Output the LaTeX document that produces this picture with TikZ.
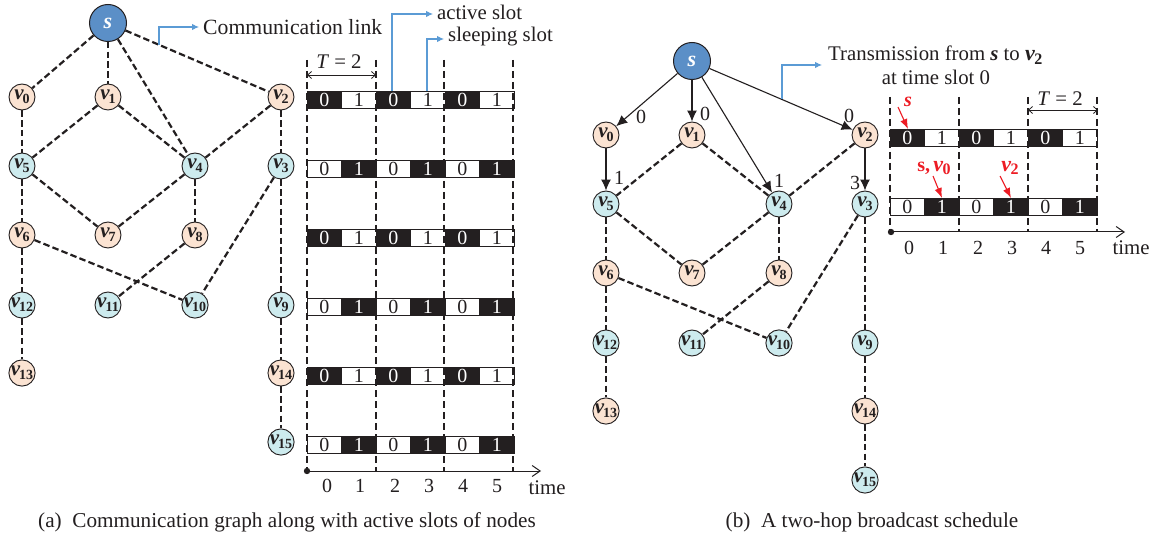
\documentclass[tikz,border=0pt]{standalone}
\usepackage{fontspec}
\setmainfont{Liberation Serif}
\usetikzlibrary{arrows.meta,calc}
\definecolor{ink}{HTML}{231F20}
\definecolor{srcblue}{HTML}{5B8FC7}
\definecolor{peach}{HTML}{FBE3D2}
\definecolor{aqua}{HTML}{CDEBEE}
\definecolor{linkblue}{HTML}{5B9BD5}
\definecolor{alert}{HTML}{ED1C24}
\newcommand{\vn}[1]{{\fontsize{21}{21}\selectfont\bfseries\itshape v\kern-1pt\raisebox{-4pt}{\fontsize{14}{14}\selectfont\upshape #1}}}
\newcommand{\vr}[1]{{\fontsize{22}{22}\selectfont\bfseries\itshape v\kern-0.5pt\raisebox{-3.5pt}{\fontsize{16}{16}\selectfont\upshape #1}}}
\tikzset{
 txt/.style={font=\fontsize{20.8}{22}\selectfont,text=ink,inner sep=0},
 captext/.style={font=\fontsize{21.2}{22}\selectfont,text=ink,inner sep=0},
 num/.style={font=\fontsize{20}{22}\selectfont,text=ink,inner sep=0},
 src/.style={circle,draw=ink,line width=1pt,fill=srcblue,minimum size=37pt,inner sep=0,text=white,font=\fontsize{22}{22}\selectfont\bfseries\itshape},
 pn/.style={circle,draw=ink,line width=.9pt,fill=peach,minimum size=26pt,inner sep=0,text=ink},
 an/.style={circle,draw=ink,line width=.9pt,fill=aqua,minimum size=26pt,inner sep=0,text=ink},
 dl/.style={draw=ink,line width=2.2pt,dash pattern=on 6.5pt off 3.2pt},
 sl/.style={draw=ink,line width=1.1pt,-{Latex[length=11pt,width=10pt]}},
 sd/.style={draw=ink,line width=1.8pt,dash pattern=on 7pt off 4pt},
 bl/.style={draw=linkblue,line width=1.1pt,-{Latex[length=7pt,width=6.5pt]}},
 rd/.style={draw=alert,line width=1.1pt,-{Latex[length=10pt,width=7.5pt]}},
 dk/.style={fill=ink,draw=ink,line width=.8pt,minimum width=34.5pt,minimum height=17pt,inner sep=0,text=white,font=\fontsize{20}{20}\selectfont},
 lt/.style={fill=white,draw=ink,line width=.8pt,minimum width=34.5pt,minimum height=17pt,inner sep=0,text=ink,font=\fontsize{20}{20}\selectfont},
 dimline/.style={draw=ink,line width=.8pt,{Straight Barb[length=4pt,width=7pt]}-{Straight Barb[length=4pt,width=7pt]}},
 tax/.style={draw=ink,line width=1pt,-{Straight Barb[length=8pt,width=11pt]}},
}
\newcommand{\nodesAt}[3]{
 \begin{scope}[shift={(#2,#3)}]
 \node[src] (#1s) at (108,23) {s};
 \node[pn] (#1v0) at (22,97) {\vn0};
 \node[pn] (#1v1) at (108,97) {\vn1};
 \node[pn] (#1v2) at (281,97) {\vn2};
 \node[an] (#1v3) at (281,166) {\vn3};
 \node[an] (#1v4) at (195,166) {\vn4};
 \node[an] (#1v5) at (22,166) {\vn5};
 \node[pn] (#1v6) at (22,235) {\vn6};
 \node[pn] (#1v7) at (108,235) {\vn7};
 \node[pn] (#1v8) at (195,235) {\vn8};
 \node[an] (#1v12) at (22,305) {\vn{12}};
 \node[an] (#1v11) at (108,305) {\vn{11}};
 \node[an] (#1v10) at (195,305) {\vn{10}};
 \node[an] (#1v9) at (281,305) {\vn9};
 \node[pn] (#1v13) at (22,373) {\vn{13}};
 \node[pn] (#1v14) at (281,373) {\vn{14}};
 \node[an] (#1v15) at (281,442) {\vn{15}};
 \end{scope}
 \foreach \p/\q in {v1/v5,v1/v4,v2/v4,v5/v6,v5/v7,v4/v7,v4/v8,v8/v11,v6/v12,v12/v13,v6/v10,v3/v10,v3/v9,v9/v14,v14/v15}
  \draw[dl] (#1\p) -- (#1\q);
}
\newcommand{\slotrow}[4]{
 \foreach \i in {0,...,5}{
  \pgfmathtruncatemacro{\dark}{mod(\i+#4,2)==0 ? 1 : 0}
  \pgfmathtruncatemacro{\lab}{mod(\i,2)}
  \pgfmathsetmacro{\xx}{#2+17.25+34.5*\i}
  \ifnum\dark=1
   \node[dk] (#1c\i) at (\xx,#3+8.5) {\lab};
  \else
   \node[lt] (#1c\i) at (\xx,#3+8.5) {\lab};
  \fi
 }
}
\begin{document}
\begin{tikzpicture}[x=1pt,y=-1pt]
\useasboundingbox (0,0) rectangle (1157,540);
\fill[white] (0,0) rectangle (1157,540);

% ---- (a)
\nodesAt{a}{0}{0}
\foreach \q in {v0,v1,v4,v2} \draw[dl] (as) -- (a\q);
\draw[dl] (av0) -- (av5);
\draw[dl] (av2) -- (av3);

\foreach \r/\yy/\dd in {1/91/0,2/160/1,3/229/0,4/298/1,5/367/0,6/436/1}
  \slotrow{ar\r}{307}{\yy}{\dd};
\foreach \xx/\nn in {307/0,376/1,444/2,513/3}{
  \coordinate (at\nn) at (\xx,60);
  \coordinate (ab\nn) at (\xx,471);
  \draw[sd] (at\nn) -- (ab\nn);
}
\coordinate (aO) at (307,471);
\coordinate (aE) at (541,471);
\draw[tax] (aO) -- (aE);
\fill[ink] (aO) circle (3.2pt);
\foreach \xx/\nn in {327/0,360/1,395/2,429/3,463/4,497/5}
  \node[num] (al\nn) at (\xx,486) {\nn};
\node[txt] (atime) at (547,488) {time};
\coordinate (ad1) at (307,75); \coordinate (ad2) at (376,75);
\draw[dimline] (ad1) -- (ad2);
\node[txt] (aT) at (339,62) {\textit{T} = 2};

\coordinate (ca) at (159,45); \coordinate (cb) at (199,27);
\draw[bl] (ca) |- (cb);
\node[txt,anchor=west,font=\fontsize{21.7}{22}\selectfont] (acl) at (203,27) {Communication link};
\coordinate (cc) at (392,91); \coordinate (cd) at (433,14);
\draw[bl] (cc) |- (cd);
\node[txt,anchor=west] (aas) at (437,12) {active slot};
\coordinate (ce) at (427,91); \coordinate (cf) at (444,39);
\draw[bl] (ce) |- (cf);
\node[txt,anchor=west] (ass) at (448,37) {sleeping slot};
\node[captext] (capa) at (287,522) {(a)\ \ Communication graph along with active slots of nodes};

% ---- (b)
\nodesAt{b}{584}{38}
\foreach \q in {v0,v1,v4,v2} \draw[sl] (bs) -- (b\q);
\draw[sl] (bv0) -- (bv5);
\draw[sl] (bv2) -- (bv3);

\slotrow{br1}{890}{129}{0}
\slotrow{br2}{890}{198}{1}
\foreach \xx/\nn in {890/0,959/1,1028/2,1097/3}{
  \coordinate (bt\nn) at (\xx,97);
  \coordinate (bb\nn) at (\xx,231);
  \draw[sd] (bt\nn) -- (bb\nn);
}
\coordinate (bO) at (891,232);
\coordinate (bE) at (1125,232);
\draw[tax] (bO) -- (bE);
\fill[ink] (bO) circle (3.2pt);
\foreach \xx/\nn in {909/0,943/1,978/2,1012/3,1046/4,1080/5}
  \node[num] (bl\nn) at (\xx,248) {\nn};
\node[txt] (btime) at (1131,248) {time};
\coordinate (bd1) at (1028,110); \coordinate (bd2) at (1098,110);
\draw[dimline] (bd1) -- (bd2);
\node[txt] (bT) at (1060,99) {\textit{T} = 2};

\coordinate (cg) at (782,99); \coordinate (ch) at (822,65);
\draw[bl] (cg) |- (ch);
\node[txt,anchor=base west] (btx) at (828,61) {Transmission from \textbf{\textit{s}} to \vr2};
\node[txt] (btx2) at (936,77) {at time slot 0};

\foreach \xx/\yy/\lb/\nn in {641/117/0/a,705/114/0/b,849/116/0/c,619/178/1/d,779/181/1/e,855/183/3/f}
  \node[num] (be\nn) at (\xx,\yy) {\lb};

\node[text=alert,inner sep=0,font=\fontsize{20}{20}\selectfont\bfseries\itshape] (rs) at (908,102) {s};
\coordinate (r1a) at (898,107); \coordinate (r1b) at (908,129);
\draw[rd] (r1a) -- (r1b);
\node[text=alert,inner sep=0,font=\fontsize{20}{20}\selectfont\bfseries] (rsv) at (934,168) {s,\,\vr0};
\coordinate (r2a) at (933,176); \coordinate (r2b) at (942,198);
\draw[rd] (r2a) -- (r2b);
\node[text=alert,inner sep=0] (rv) at (1010,168) {\vr2};
\coordinate (r3a) at (1000,176); \coordinate (r3b) at (1011,198);
\draw[rd] (r3a) -- (r3b);
\node[captext] (capb) at (872,522) {(b)\ \ A two-hop broadcast schedule};
\end{tikzpicture}
\end{document}
